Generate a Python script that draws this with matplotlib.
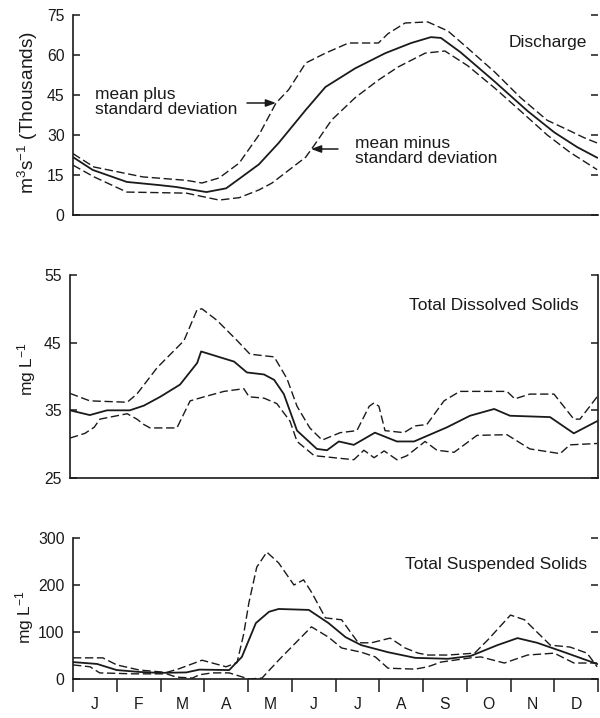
import numpy as np
import matplotlib
matplotlib.use("Agg")
import matplotlib.pyplot as plt

plt.rcParams['font.family'] = ['Liberation Sans', 'DejaVu Sans']
plt.rcParams['mathtext.fontset'] = 'custom'
plt.rcParams['mathtext.rm'] = 'Liberation Sans'
plt.rcParams['mathtext.it'] = 'Liberation Sans:italic'

MONTHS = ["J", "F", "M", "A", "M", "J", "J", "A", "S", "O", "N", "D"]

# ---- discharge (thousand m3/s); x in months from 1 Jan ----
q_mean_x = [0, 0.45, 1.23, 1.98, 2.36, 3.05, 3.5, 3.86, 4.25, 4.70, 5.32, 5.77, 6.45, 7.14, 7.73, 8.18, 8.41, 8.86, 9.64, 10.39, 11.0, 11.52, 11.98]
q_mean_y = [21.7, 16.9, 12.4, 11.2, 10.5, 8.6, 10.0, 14.3, 19.0, 27.0, 39.4, 48.0, 55.0, 60.7, 64.5, 66.7, 66.4, 61.0, 50.0, 39.0, 31.0, 25.5, 21.5]
q_hi_x = [0, 0.48, 1.59, 2.59, 2.95, 3.34, 3.80, 4.25, 4.64, 4.93, 5.32, 5.77, 6.30, 6.98, 7.20, 7.59, 8.11, 8.57, 9.02, 9.64, 10.23, 10.84, 11.30, 11.68, 11.98]
q_hi_y = [23.0, 18.0, 14.3, 13.0, 12.0, 13.9, 19.5, 30.0, 42.0, 47.0, 57.0, 60.7, 64.5, 64.5, 68.0, 72.0, 72.4, 69.0, 62.6, 53.6, 44.0, 35.5, 32.0, 29.0, 27.0]
q_lo_x = [0, 0.48, 1.23, 2.59, 3.34, 3.80, 4.25, 4.55, 5.32, 5.55, 5.91, 6.45, 6.98, 7.43, 8.05, 8.5, 9.02, 9.64, 10.23, 10.84, 11.36, 11.98]
q_lo_y = [18.7, 14.3, 8.6, 8.2, 5.6, 6.5, 9.4, 12.0, 21.7, 27.0, 35.6, 44.0, 50.6, 55.5, 60.7, 61.5, 56.0, 47.6, 39.0, 30.0, 23.5, 17.0]

# ---- total dissolved solids (mg/L) ----
tds_mean_x = [0, 0.45, 0.84, 1.36, 1.68, 2.05, 2.5, 2.89, 2.98, 3.18, 3.73, 4.02, 4.41, 4.64, 4.86, 5.16, 5.61, 5.84, 6.11, 6.45, 6.93, 7.43, 7.82, 8.57, 9.09, 9.64, 10.0, 10.91, 11.45, 11.98]
tds_mean_y = [35.0, 34.3, 35.0, 35.0, 35.7, 37.0, 38.8, 42.0, 43.7, 43.3, 42.2, 40.6, 40.3, 39.5, 37.4, 32.0, 29.3, 29.1, 30.4, 29.9, 31.7, 30.4, 30.4, 32.5, 34.2, 35.2, 34.2, 34.0, 31.6, 33.4]
tds_hi_x = [0, 0.45, 1.30, 1.52, 1.98, 2.59, 2.89, 3.0, 3.34, 3.80, 4.09, 4.64, 4.93, 5.16, 5.45, 5.73, 6.14, 6.52, 6.80, 6.91, 7.02, 7.16, 7.59, 7.84, 8.11, 8.5, 8.86, 9.93, 10.11, 10.45, 11.0, 11.45, 11.59, 11.98]
tds_hi_y = [37.5, 36.4, 36.2, 37.4, 41.3, 45.3, 49.9, 50.0, 48.3, 45.3, 43.3, 42.9, 39.7, 35.6, 32.4, 30.6, 31.7, 32.0, 35.6, 36.1, 35.6, 32.0, 31.7, 32.7, 32.9, 36.4, 37.8, 37.8, 36.7, 37.4, 37.4, 33.7, 33.7, 37.0]
tds_lo_x = [0, 0.34, 0.55, 0.68, 1.30, 1.52, 1.68, 1.82, 2.43, 2.73, 3.05, 3.5, 3.95, 4.07, 4.41, 4.70, 5.0, 5.16, 5.55, 6.45, 6.68, 6.91, 7.14, 7.43, 7.66, 8.07, 8.34, 8.73, 9.25, 9.93, 10.45, 11.14, 11.36, 11.98]
tds_lo_y = [30.9, 31.6, 32.5, 33.7, 34.5, 33.7, 32.9, 32.4, 32.4, 36.4, 37.0, 37.8, 38.2, 37.0, 36.8, 36.0, 33.4, 30.4, 28.3, 27.7, 29.1, 28.0, 29.0, 27.7, 28.3, 30.4, 29.1, 28.8, 31.3, 31.4, 29.3, 28.6, 29.9, 30.1]

# ---- total suspended solids (mg/L) ----
tss_mean_x = [0, 0.55, 1.0, 1.52, 1.98, 2.59, 2.89, 3.57, 3.86, 4.18, 4.48, 4.70, 5.39, 5.84, 6.23, 6.59, 7.20, 7.82, 8.57, 9.09, 9.70, 10.16, 10.61, 11.23, 11.98]
tss_mean_y = [36, 32, 19, 15, 13, 14, 20, 19, 47, 119, 143, 149, 147, 119, 89, 72, 57, 45, 43, 49, 72, 87, 77, 57, 32]
tss_hi_x = [0, 0.68, 1.0, 1.52, 2.14, 2.43, 2.95, 3.5, 3.75, 3.90, 4.02, 4.20, 4.43, 4.70, 5.05, 5.27, 5.45, 5.77, 6.14, 6.52, 6.82, 7.25, 7.59, 7.89, 8.11, 8.57, 9.18, 9.48, 10.0, 10.32, 10.91, 11.36, 11.75, 11.98]
tss_hi_y = [45, 45, 30, 19, 14, 22, 40, 26, 35, 95, 162, 238, 270, 247, 200, 211, 185, 130, 126, 77, 77, 87, 66, 55, 51, 51, 55, 83, 136, 126, 72, 68, 55, 26]
tss_lo_x = [0, 0.39, 0.61, 1.36, 2.14, 2.36, 2.73, 2.89, 3.18, 3.57, 4.02, 4.32, 4.70, 5.09, 5.45, 5.84, 6.14, 6.59, 6.91, 7.20, 7.82, 8.11, 8.41, 9.09, 9.32, 9.86, 10.39, 11.0, 11.45, 11.98]
tss_lo_y = [30, 26, 13, 11, 11, 4, 2, 9, 13, 13, 0, 2, 40, 77, 111, 89, 66, 57, 47, 23, 21, 26, 36, 45, 47, 34, 51, 55, 34, 34]

W, H = 600, 718
INK = "#1a1a1a"
DASH = (0, (6, 2.6))


def fr(x, y):
    return x / W, 1 - y / H


fig = plt.figure(figsize=(6, 7.18), dpi=100)
ax1 = fig.add_axes([73 / W, 1 - 215 / H, 525 / W, 200 / H])
ax2 = fig.add_axes([70 / W, 1 - 478 / H, 528 / W, 203 / H])
ax3 = fig.add_axes([73 / W, 1 - 679 / H, 525 / W, 141 / H])

panels = [
    (ax1, (q_mean_x, q_mean_y), (q_hi_x, q_hi_y), (q_lo_x, q_lo_y), (0, 75), [0, 15, 30, 45, 60, 75]),
    (ax2, (tds_mean_x, tds_mean_y), (tds_hi_x, tds_hi_y), (tds_lo_x, tds_lo_y), (25, 55), [25, 35, 45, 55]),
    (ax3, (tss_mean_x, tss_mean_y), (tss_hi_x, tss_hi_y), (tss_lo_x, tss_lo_y), (0, 300), [0, 100, 200, 300]),
]
for ax, mean, hi, lo, ylim, yt in panels:
    ax.plot(*hi, color=INK, lw=1.0, ls=DASH)
    ax.plot(*lo, color=INK, lw=1.0, ls=DASH)
    ax.plot(*mean, color=INK, lw=1.3)
    ax.set_xlim(0, 12); ax.set_ylim(*ylim)
    ax.set_yticks(yt)
    ax.tick_params(axis="y", direction="in", length=5, width=1.1, left=True, right=True,
                   labelsize=11.3, pad=6, colors=INK)
    ax.spines["top"].set_visible(False)
    for s in ["left", "bottom", "right"]:
        ax.spines[s].set_linewidth(1.2); ax.spines[s].set_color(INK)
    ax.set_facecolor("none")

ax1.spines["right"].set_visible(False)
ax3.spines["right"].set_visible(False)
for ax in (ax1, ax2):
    ax.set_xticks([])

# month ticks on the bottom panel
ax3.set_xticks(range(13))
ax3.set_xticklabels([])
ax3.set_xticks(np.arange(12) + 0.5, minor=True)
ax3.set_xticklabels(MONTHS, minor=True)
ax3.tick_params(axis="x", which="major", direction="out", length=9, width=1.1, colors=INK)
ax3.tick_params(axis="x", which="minor", length=0, pad=13, labelsize=11.3, colors=INK)

# y labels
fig.text(*fr(28, 112), "m$^3$s$^{-1}$ (Thousands)", rotation=90, ha="center", va="center", fontsize=13.8, color=INK)
fig.text(*fr(27, 369), "mg L$^{-1}$", rotation=90, ha="center", va="center", fontsize=12.5, color=INK)
fig.text(*fr(25, 617), "mg L$^{-1}$", rotation=90, ha="center", va="center", fontsize=12.5, color=INK)

# panel titles
fig.text(*fr(587, 42), "Discharge", ha="right", va="center", fontsize=12.5, color=INK)
fig.text(*fr(579, 306), "Total Dissolved Solids", ha="right", va="center", fontsize=12.5, color=INK)
fig.text(*fr(587, 564), "Total Suspended Solids", ha="right", va="center", fontsize=12.5, color=INK)

# annotations
fig.text(*fr(95, 102), "mean plus\nstandard deviation", ha="left", va="center", fontsize=12.5,
         linespacing=1.0, color=INK)
fig.text(*fr(355, 151), "mean minus\nstandard deviation", ha="left", va="center", fontsize=12.5,
         linespacing=1.0, color=INK)
arw = dict(arrowstyle="-|>,head_length=0.6,head_width=0.22", color=INK, lw=1.1, shrinkA=0, shrinkB=0)
fig.add_artist(matplotlib.patches.FancyArrowPatch(fr(247, 103), fr(276, 103), transform=fig.transFigure,
                                                  mutation_scale=10, **arw))
fig.add_artist(matplotlib.patches.FancyArrowPatch(fr(338, 149), fr(311, 149), transform=fig.transFigure,
                                                  mutation_scale=10, **arw))

fig.savefig("out.png", dpi=100, facecolor="white")
